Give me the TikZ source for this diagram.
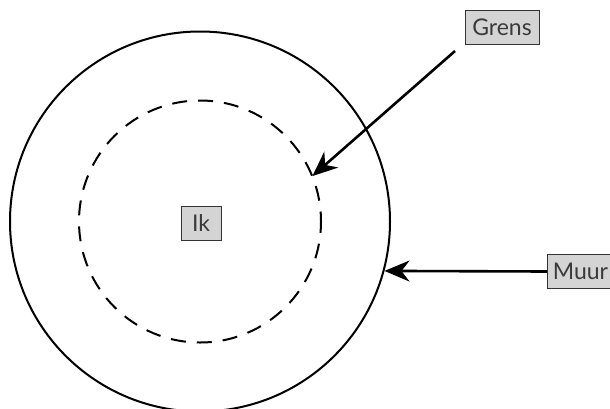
\documentclass[tikz,border=0pt]{standalone}
\usepackage{fontspec}
\setmainfont{Lato}
\usetikzlibrary{arrows.meta}
\definecolor{boxgray}{HTML}{D4D4D4}
\definecolor{txtgray}{HTML}{3A3A3A}
\begin{document}
\begin{tikzpicture}[x=1pt,y=-1pt,
  label box/.style={draw=black!80, line width=0.9pt, fill=boxgray, text=txtgray,
    font=\fontsize{23}{26}\selectfont, inner xsep=2pt, inner ysep=0pt,
    minimum height=34pt, anchor=center},
  pointer/.style={line width=2.6pt, -{Stealth[length=25pt,width=21pt,inset=8pt]}}]
\useasboundingbox (0,0) rectangle (610,408);
\coordinate (c) at (200,221.5);
\node[draw, circle, line width=2pt, minimum size=380pt, inner sep=0pt] (wall) at (c) {};
\node[circle, minimum size=242pt, inner sep=0pt] (bound) at (c) {};
\draw[line width=2pt, dash pattern=on 15pt off 11pt, dash phase=5pt] (c) circle[radius=121pt];
\node[label box, minimum width=40pt] (ik) at (201,223.5) {Ik};
\node[label box, minimum width=74pt] (grens) at (502,27.5) {Grens};
\node[label box, anchor=west, minimum width=66pt] (muur) at (547,271.5) {Muur};
\coordinate (gstart) at (455,51);
\draw[pointer] (gstart) -- (bound.22);
\draw[pointer] (muur.west) -- (wall.-15.2);
\end{tikzpicture}
\end{document}
